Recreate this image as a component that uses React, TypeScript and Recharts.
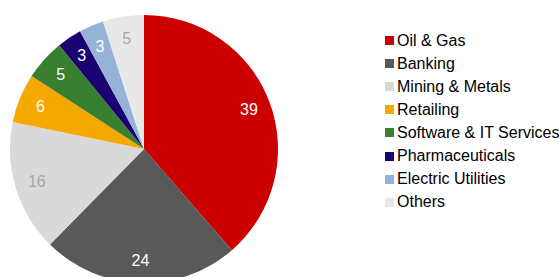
import { PieChart, Pie, Cell } from 'recharts'

const sectors = [
  'Oil & Gas', 'Banking', 'Mining & Metals', 'Retailing',
  'Software & IT Services', 'Pharmaceuticals', 'Electric Utilities', 'Others',
]
const weights = [39, 24, 16, 6, 5, 3, 3, 5]
const COLORS = [
  '#CC0000', '#595959', '#D9D9D9', '#F5A800',
  '#38802F', '#1A0070', '#95B3D7', '#E8E8E8',
]
const LABEL_COLORS = [
  '#FFFFFF', '#FFFFFF', '#A6A6A6', '#FFFFFF',
  '#FFFFFF', '#FFFFFF', '#FFFFFF', '#A6A6A6',
]

const data = sectors.map((name, i) => ({ name, value: weights[i] }))

const FONT = '"Liberation Sans", Arial, sans-serif'
const RAD = Math.PI / 180

const renderLabel = (props: any) => {
  const { cx, cy, midAngle, index, value } = props
  const r = 112
  const x = cx + r * Math.cos(-midAngle * RAD)
  const y = cy + r * Math.sin(-midAngle * RAD)
  return (
    <text
      x={x}
      y={y}
      fill={LABEL_COLORS[index]}
      textAnchor="middle"
      dominantBaseline="central"
      fontSize={16}
      fontFamily={FONT}
    >
      {value}
    </text>
  )
}

function SectorLegend() {
  return (
    <div style={{ position: 'absolute', left: 385, top: 29, fontFamily: FONT, fontSize: 16, color: '#000' }}>
      {sectors.map((s, i) => (
        <div key={s} style={{ height: 23.1, display: 'flex', alignItems: 'center', whiteSpace: 'nowrap' }}>
          <span style={{ width: 9, height: 9, background: COLORS[i], marginRight: 3, flex: 'none' }} />
          <span>{s}</span>
        </div>
      ))}
    </div>
  )
}

export default function App() {
  return (
    <div style={{ position: 'absolute', left: 0, top: 0, width: 560, height: 277, overflow: 'hidden', background: '#fff' }}>
      <PieChart width={560} height={277} margin={{ top: 0, right: 0, bottom: 0, left: 0 }}>
        <Pie
          data={data}
          dataKey="value"
          cx={144}
          cy={149}
          outerRadius={134}
          startAngle={90}
          endAngle={-270}
          stroke="none"
          label={renderLabel}
          labelLine={false}
          isAnimationActive={false}
        >
          {data.map((_, i) => (
            <Cell key={i} fill={COLORS[i]} />
          ))}
        </Pie>
      </PieChart>
      <SectorLegend />
    </div>
  )
}
